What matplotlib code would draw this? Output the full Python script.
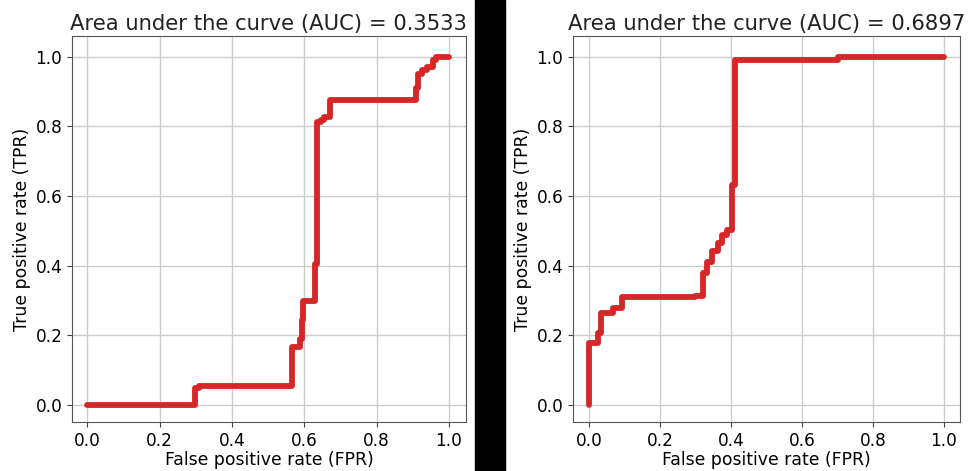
import matplotlib
matplotlib.use("Agg")
import matplotlib.pyplot as plt
from matplotlib.patches import Rectangle

# Left ROC curve (step points)
fpr_left = [0.0, 0.298, 0.298, 0.31, 0.31, 0.565, 0.565, 0.588, 0.588, 0.593, 0.593,
            0.597, 0.597, 0.630, 0.630, 0.634, 0.634, 0.645, 0.645, 0.655, 0.655,
            0.671, 0.671, 0.908, 0.908, 0.915, 0.915, 0.925, 0.925, 0.94, 0.94,
            0.955, 0.955, 0.965, 0.965, 1.0]
tpr_left = [0.0, 0.0, 0.048, 0.048, 0.055, 0.055, 0.167, 0.167, 0.19, 0.19, 0.244,
            0.244, 0.30, 0.30, 0.405, 0.405, 0.814, 0.814, 0.82, 0.82, 0.826,
            0.826, 0.876, 0.876, 0.91, 0.91, 0.95, 0.95, 0.962, 0.962, 0.972,
            0.972, 0.99, 0.99, 1.0, 1.0]
auc_left = "0.3533"

# Right ROC curve (step points)
fpr_right = [0.0, 0.0, 0.026, 0.026, 0.033, 0.033, 0.069, 0.069, 0.092, 0.092,
             0.299, 0.299, 0.320, 0.320, 0.332, 0.332, 0.346, 0.346, 0.364, 0.364,
             0.376, 0.376, 0.388, 0.388, 0.402, 0.402, 0.411, 0.411, 0.70, 0.70, 1.0]
tpr_right = [0.0, 0.179, 0.179, 0.206, 0.206, 0.263, 0.263, 0.278, 0.278, 0.311,
             0.311, 0.313, 0.313, 0.378, 0.378, 0.412, 0.412, 0.441, 0.441, 0.465,
             0.465, 0.489, 0.489, 0.503, 0.503, 0.632, 0.632, 0.99, 0.99, 1.0, 1.0]
auc_right = "0.6897"

ticks = [0.0, 0.2, 0.4, 0.6, 0.8, 1.0]
tick_labels = ["0.0", "0.2", "0.4", "0.6", "0.8", "1.0"]

W, H = 968, 471
fig = plt.figure(figsize=(W / 100, H / 100), dpi=100)

def make_axes(x0, x1, y0, y1):
    return fig.add_axes([x0 / W, 1 - y1 / H, (x1 - x0) / W, (y1 - y0) / H])

ax1 = make_axes(72, 466, 36, 422)
ax2 = make_axes(573, 960, 36, 422)

for ax, fpr, tpr, auc in [(ax1, fpr_left, tpr_left, auc_left),
                          (ax2, fpr_right, tpr_right, auc_right)]:
    ax.plot(fpr, tpr, color="#d62728", linewidth=4.2, solid_capstyle="round",
            solid_joinstyle="round")
    ax.set_xticks(ticks)
    ax.set_xticklabels(tick_labels)
    ax.set_yticks(ticks)
    ax.set_yticklabels(tick_labels)
    ax.tick_params(labelsize=12.2, color="#444444")
    for s in ax.spines.values():
        s.set_color("#555555")
    ax.grid(True, color="#cccccc", linewidth=1.0)
    ax.set_xlabel("False positive rate (FPR)", fontsize=12.4, labelpad=1)
    ax.set_ylabel("True positive rate (TPR)", fontsize=12.4, labelpad=3)
    ax.set_title(f"Area under the curve (AUC) = {auc}", fontsize=15.2, pad=4,
                 color="#222222")

ax1.set_xlim(-0.042, 1.047)
ax1.set_ylim(-0.049, 1.06)
ax2.set_xlim(-0.045, 1.045)
ax2.set_ylim(-0.049, 1.06)

# black separator bar between panels
fig.patches.append(Rectangle((475 / W, 0), 30 / W, 1, transform=fig.transFigure,
                             color="black", zorder=10))

fig.savefig("out.png", dpi=100)
